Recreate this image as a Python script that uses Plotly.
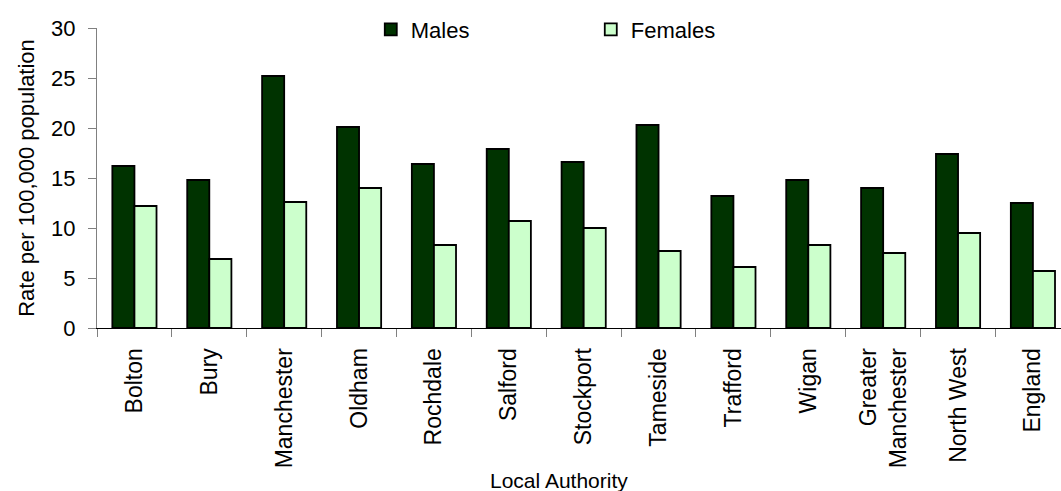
import plotly.graph_objects as go

# Suicide rates per 100,000 population by local authority
authorities = ["Bolton", "Bury", "Manchester", "Oldham", "Rochdale", "Salford",
               "Stockport", "Tameside", "Trafford", "Wigan",
               "Greater<br>Manchester", "North West", "England"]
males = [16.2, 14.8, 25.2, 20.1, 16.4, 17.9, 16.6, 20.3, 13.2, 14.8, 14.0, 17.4, 12.5]
females = [12.2, 6.9, 12.6, 14.0, 8.3, 10.7, 10.0, 7.7, 6.1, 8.3, 7.5, 9.5, 5.7]

FONT = "Liberation Sans, Arial, sans-serif"
OUTLINE = dict(color="#000000", width=1.8)

fig = go.Figure()
fig.add_trace(go.Bar(name="Males", x=authorities, y=males,
                     marker=dict(color="#003300", line=OUTLINE)))
fig.add_trace(go.Bar(name="Females", x=authorities, y=females,
                     marker=dict(color="#CCFFCC", line=OUTLINE)))

fig.update_layout(
    width=1061, height=491,
    margin=dict(l=97, r=0, t=28, b=163),
    paper_bgcolor="white", plot_bgcolor="white",
    font=dict(family=FONT, size=22, color="#000000"),
    barmode="group", bargap=0.41, bargroupgap=0,
    showlegend=True,
    legend=dict(orientation="h", x=0.284, xanchor="left", y=0.995, yanchor="middle",
                font=dict(size=22), entrywidth=175, entrywidthmode="pixels",
                bgcolor="rgba(0,0,0,0)", traceorder="normal"),
    annotations=[dict(text="Local Authority", xref="paper", yref="paper",
                      x=0.479, y=-0.507, xanchor="center", yanchor="middle",
                      showarrow=False, font=dict(size=21))],
)

fig.update_xaxes(
    type="category", range=[-0.5, 12.375],
    tickangle=-90, tickfont=dict(size=23), ticklabelstandoff=10,
    showline=True, linecolor="#000000", linewidth=1,
    ticks="outside", tickson="boundaries", ticklen=8, tickcolor="#808080",
    showgrid=False,
)
fig.update_yaxes(
    range=[0, 30], dtick=5, tickfont=dict(size=22), ticklabelstandoff=8,
    title=dict(text="Rate per 100,000 population", font=dict(size=22), standoff=10),
    showline=True, linecolor="#808080", linewidth=1,
    ticks="outside", ticklen=8, tickcolor="#808080",
    showgrid=False, zeroline=False,
)

fig.write_html("out.html")
